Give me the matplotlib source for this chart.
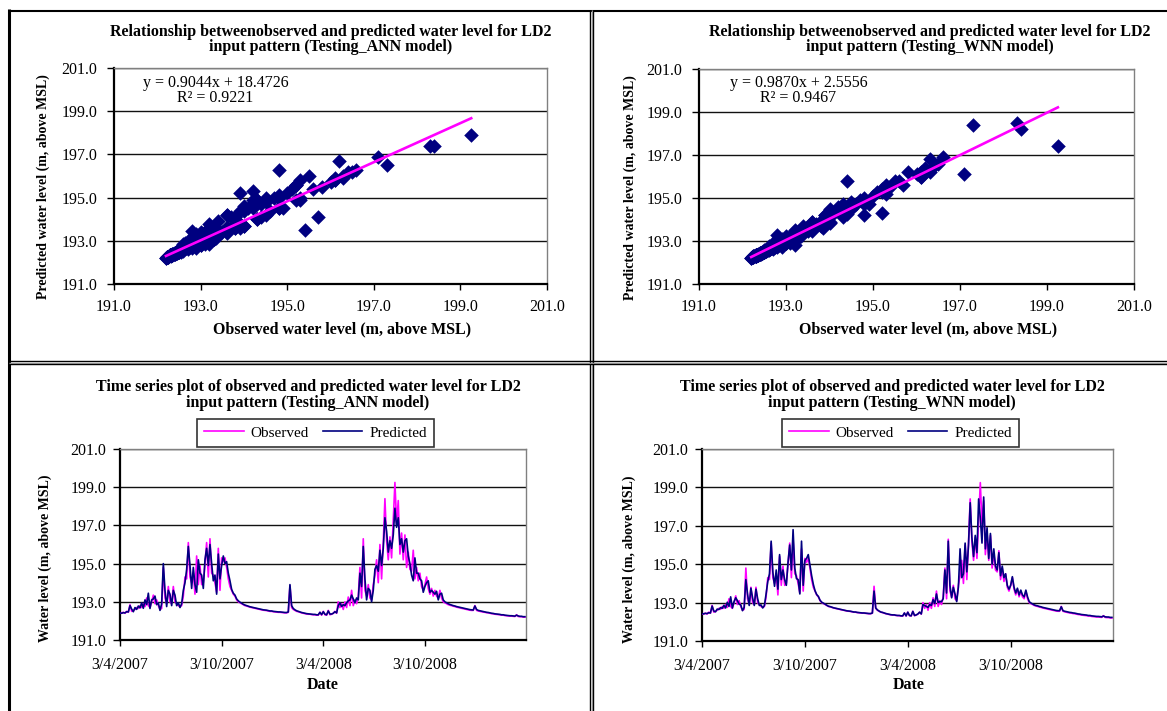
import numpy as np
import matplotlib
matplotlib.use('Agg')
import matplotlib.pyplot as plt
import pandas as pd
from matplotlib.lines import Line2D

plt.rcParams['font.family'] = ['Liberation Serif', 'DejaVu Serif']

# ---------------- data (3-day samples) ----------------
start_date = '2007-04-03'
end_date = '2009-04-03'
tick_dates = ['2007-04-03', '2007-10-03', '2008-04-03', '2008-10-03']
tick_date_labels = ['3/4/2007', '3/10/2007', '3/4/2008', '3/10/2008']
level_ticks = [191.0, 193.0, 195.0, 197.0, 199.0, 201.0]

observed = [
    192.40, 192.42, 192.45, 192.40, 192.50, 192.45, 192.85, 192.50, 192.55, 192.60,
    192.70, 192.65, 192.80, 192.70, 192.90, 192.75, 193.20, 192.80, 192.70, 193.00,
    193.35, 192.90, 193.10, 192.80, 192.60, 192.65, 194.80, 193.20, 192.90, 193.80,
    193.00, 192.90, 193.80, 193.00, 192.90, 192.80, 192.75, 192.80, 193.30, 194.30,
    194.20, 196.10, 194.30, 194.00, 194.50, 193.40, 195.40, 193.90, 194.90, 193.90,
    194.00, 195.00, 196.10, 194.30, 196.30, 194.50, 194.40, 194.00, 193.50, 195.80,
    193.60, 195.30, 195.10, 195.30, 194.80, 194.20, 193.80, 193.60, 193.40, 193.30,
    193.10, 193.00, 192.95, 192.90, 192.85, 192.80, 192.78, 192.75, 192.72, 192.70,
    192.68, 192.66, 192.64, 192.62, 192.60, 192.58, 192.56, 192.55, 192.54, 192.52,
    192.50, 192.50, 192.48, 192.47, 192.46, 192.45, 192.45, 192.44, 192.43, 192.42,
    192.42, 192.45, 193.85, 192.70, 192.60, 192.55, 192.50, 192.48, 192.45, 192.42,
    192.40, 192.38, 192.36, 192.35, 192.35, 192.33, 192.32, 192.32, 192.30, 192.30,
    192.45, 192.30, 192.50, 192.32, 192.30, 192.55, 192.32, 192.35, 192.40, 192.50,
    192.40, 193.00, 192.70, 192.90, 192.60, 193.00, 192.70, 193.25, 192.80, 193.60,
    192.80, 193.10, 192.90, 193.30, 194.80, 193.20, 196.30, 193.60, 193.30, 193.90,
    193.20, 193.10, 193.90, 194.40, 195.20, 194.00, 196.00, 194.20, 196.10, 198.40,
    196.20, 195.20, 196.40, 195.30, 197.30, 199.25, 197.10, 198.30, 195.50, 196.60,
    195.20, 196.50, 194.80, 195.60, 194.70, 194.60, 195.70, 194.20, 194.80, 194.10,
    194.50, 193.80, 193.60, 193.90, 194.30, 193.70, 193.40, 193.70, 193.30, 193.60,
    193.30, 193.20, 193.60, 193.20, 193.00, 192.95, 192.90, 192.85, 192.82, 192.80,
    192.77, 192.75, 192.72, 192.70, 192.68, 192.66, 192.64, 192.62, 192.60, 192.58,
    192.56, 192.55, 192.55, 192.80, 192.55, 192.52, 192.50, 192.48, 192.46, 192.45,
    192.43, 192.42, 192.40, 192.38, 192.37, 192.35, 192.34, 192.33, 192.32, 192.30,
    192.30, 192.28, 192.27, 192.26, 192.25, 192.25, 192.24, 192.23, 192.32, 192.23,
    192.22, 192.22, 192.20, 192.20,
]

predicted_ann = [
    192.42, 192.40, 192.43, 192.42, 192.48, 192.47, 192.80, 192.62, 192.48, 192.70,
    192.60, 192.78, 192.68, 192.95, 192.66, 193.10, 192.85, 193.45, 192.65, 193.10,
    193.15, 193.30, 192.85, 192.95, 192.55, 192.90, 195.00, 193.60, 192.75, 193.60,
    193.40, 192.80, 193.60, 193.35, 192.80, 192.95, 192.70, 192.90, 193.60, 194.00,
    194.70, 195.90, 194.90, 193.70, 194.80, 193.90, 193.50, 195.20, 194.50, 194.40,
    193.70, 195.20, 195.80, 194.90, 196.00, 195.00, 194.10, 194.40, 193.40, 195.50,
    194.20, 194.90, 195.40, 195.00, 195.10, 194.50, 194.10, 193.65, 193.45, 193.35,
    193.15, 193.05, 192.98, 192.93, 192.87, 192.83, 192.80, 192.77, 192.74, 192.72,
    192.70, 192.68, 192.66, 192.64, 192.62, 192.60, 192.58, 192.57, 192.56, 192.54,
    192.52, 192.52, 192.50, 192.49, 192.48, 192.47, 192.47, 192.46, 192.45, 192.44,
    192.44, 192.47, 193.90, 192.80, 192.65, 192.58, 192.53, 192.50, 192.47, 192.44,
    192.42, 192.40, 192.38, 192.37, 192.36, 192.35, 192.34, 192.34, 192.32, 192.32,
    192.45, 192.33, 192.48, 192.35, 192.32, 192.52, 192.36, 192.36, 192.40, 192.48,
    192.42, 192.80, 192.95, 192.75, 192.85, 192.80, 192.95, 193.05, 193.10, 193.35,
    193.15, 192.95, 193.20, 193.10, 194.50, 193.80, 195.90, 194.20, 193.10, 193.70,
    193.60, 193.00, 193.60, 194.70, 194.90, 194.60, 195.70, 194.90, 195.80, 197.40,
    196.70, 195.60, 196.20, 195.80, 196.50, 197.90, 196.90, 197.40, 196.00, 196.30,
    195.60, 196.20, 196.30, 195.40, 195.00, 194.40, 194.10, 195.30, 194.50, 194.50,
    194.20, 194.10, 193.50, 193.80, 194.00, 194.10, 193.50, 193.60, 193.50, 193.40,
    193.55, 193.10, 193.40, 193.45, 193.10, 193.00, 192.95, 192.90, 192.86, 192.83,
    192.80, 192.78, 192.75, 192.73, 192.71, 192.69, 192.67, 192.65, 192.63, 192.61,
    192.59, 192.58, 192.57, 192.78, 192.60, 192.55, 192.53, 192.51, 192.49, 192.47,
    192.45, 192.44, 192.42, 192.40, 192.39, 192.37, 192.36, 192.35, 192.34, 192.32,
    192.32, 192.30, 192.29, 192.28, 192.27, 192.27, 192.26, 192.25, 192.30, 192.26,
    192.24, 192.24, 192.22, 192.22,
]

predicted_wnn = [
    192.43, 192.41, 192.44, 192.43, 192.47, 192.46, 192.82, 192.56, 192.52, 192.66,
    192.64, 192.74, 192.70, 192.86, 192.72, 193.02, 192.80, 193.30, 192.72, 193.05,
    193.25, 193.10, 192.92, 192.88, 192.58, 192.75, 194.20, 193.45, 192.85, 193.75,
    193.25, 192.85, 193.70, 193.20, 192.85, 192.88, 192.72, 192.85, 193.45, 194.10,
    194.50, 196.20, 194.60, 193.85, 194.70, 193.70, 195.50, 194.20, 194.70, 194.20,
    193.90, 195.10, 196.00, 194.70, 196.80, 194.80, 194.25, 194.20, 193.45, 196.20,
    193.90, 195.20, 195.30, 195.50, 194.95, 194.40, 193.95, 193.62, 193.42, 193.32,
    193.12, 193.02, 192.97, 192.92, 192.86, 192.81, 192.79, 192.76, 192.73, 192.71,
    192.69, 192.67, 192.65, 192.63, 192.61, 192.59, 192.57, 192.56, 192.55, 192.53,
    192.51, 192.51, 192.49, 192.48, 192.47, 192.46, 192.46, 192.45, 192.44, 192.43,
    192.43, 192.46, 193.60, 192.72, 192.62, 192.56, 192.51, 192.49, 192.46, 192.43,
    192.41, 192.39, 192.37, 192.36, 192.36, 192.34, 192.33, 192.33, 192.31, 192.31,
    192.46, 192.31, 192.50, 192.33, 192.31, 192.54, 192.33, 192.36, 192.41, 192.50,
    192.41, 192.90, 192.85, 192.80, 192.75, 192.90, 192.85, 193.15, 192.95, 193.45,
    193.00, 193.05, 193.05, 193.20, 194.70, 193.50, 196.20, 193.90, 193.25, 193.80,
    193.45, 193.05, 193.80, 195.80, 194.30, 194.50, 196.10, 194.60, 196.00, 198.20,
    196.40, 195.40, 196.50, 195.60, 198.40, 197.40, 196.10, 198.50, 195.80, 196.90,
    195.30, 196.60, 195.00, 195.80, 194.90, 194.70, 195.60, 194.40, 194.90, 194.30,
    194.50, 193.90, 193.70, 193.90, 194.35, 193.80, 193.50, 193.75, 193.40, 193.65,
    193.40, 193.30, 193.65, 193.30, 193.05, 192.98, 192.93, 192.88, 192.85, 192.83,
    192.80, 192.78, 192.75, 192.73, 192.71, 192.69, 192.67, 192.65, 192.63, 192.61,
    192.59, 192.58, 192.58, 192.78, 192.58, 192.55, 192.53, 192.51, 192.49, 192.48,
    192.46, 192.45, 192.43, 192.41, 192.40, 192.38, 192.37, 192.36, 192.35, 192.33,
    192.33, 192.31, 192.30, 192.29, 192.28, 192.28, 192.27, 192.26, 192.30, 192.26,
    192.25, 192.25, 192.23, 192.23,
]

# trendline equations as printed on the charts
trend_ann = (0.9044, 18.4726, 0.9221)
trend_wnn = (0.9870, 2.5556, 0.9467)

# ---------------- styling ----------------
NAVY = '#000080'
MAGENTA = '#FF00FF'
W, H = 1167, 711
fig = plt.figure(figsize=(W / 100, H / 100), dpi=100)
fig.patch.set_facecolor('white')


def box(l, t, r, b):
    return [l / W, 1 - b / H, (r - l) / W, (b - t) / H]


def ftext(x, y, s, **kw):
    kw.setdefault('ha', 'center')
    kw.setdefault('va', 'center')
    fig.text(x / W, 1 - y / H, s, **kw)


def fline(xs, ys, **kw):
    fig.add_artist(Line2D([x / W for x in xs], [1 - y / H for y in ys],
                          transform=fig.transFigure, **kw))


def style_axes(ax, xpad, ypad):
    for side in ('top', 'right'):
        ax.spines[side].set_color('#808080')
        ax.spines[side].set_linewidth(1.0)
    for side in ('left', 'bottom'):
        ax.spines[side].set_color('black')
        ax.spines[side].set_linewidth(1.6)
    ax.set_ylim(191, 201)
    ax.set_yticks(level_ticks)
    ax.set_yticklabels([f'{v:.1f}' for v in level_ticks])
    ax.yaxis.grid(True, color='#111111', linewidth=1.0)
    ax.set_axisbelow(True)
    ax.tick_params(axis='x', direction='out', length=4, width=1.0, labelsize=11.5, pad=xpad)
    ax.tick_params(axis='y', direction='out', length=5, width=1.0, labelsize=11.5, pad=ypad)


TFS = 11.5  # horizontal text size

# ---------------- scatter panels ----------------
scatter_specs = [
    (box(114, 68, 547, 284), predicted_ann, trend_ann, 'ANN', 331, 342, 43, 187, (216, 83), (215, 98)),
    (box(699, 69, 1134, 284), predicted_wnn, trend_wnn, 'WNN', 930, 928, 630, 188, (799, 83), (798, 98)),
]
for pos, pred, (m, c, r2), name, tx, lx, ylx, yly, eq1, eq2 in scatter_specs:
    ax = fig.add_axes(pos)
    ax.scatter(observed, pred, marker='D', s=55, color=NAVY, linewidths=0, zorder=3)
    xs = np.array([min(observed), max(observed)])
    ax.plot(xs, m * xs + c, color=MAGENTA, lw=1.9, zorder=4)
    ax.set_xlim(191, 201)
    ax.set_xticks(level_ticks)
    ax.set_xticklabels([f'{v:.1f}' for v in level_ticks])
    style_axes(ax, xpad=7, ypad=7)
    ftext(tx, 32, 'Relationship betweenobserved and predicted water level for LD2',
          fontsize=TFS, fontweight='bold')
    ftext(tx, 47, f'input pattern (Testing_{name} model)', fontsize=TFS, fontweight='bold')
    ftext(lx, 329, 'Observed water level (m, above MSL)', fontsize=TFS, fontweight='bold')
    ftext(ylx, yly, 'Predicted water level (m, above MSL)', fontsize=10,
          fontweight='bold', rotation=90)
    ftext(eq1[0], eq1[1], f'y = {m:.4f}x + {c:.4f}', fontsize=TFS)
    ftext(eq2[0], eq2[1], f'R² = {r2:.4f}', fontsize=TFS)

# ---------------- time series panels ----------------
dates = pd.date_range(start_date, periods=len(observed), freq='3D')
ts_specs = [
    (box(120, 449, 526, 640), predicted_ann, 'ANN', 308, 45, 558, 323, 0.4815),
    (box(702, 449, 1113, 641), predicted_wnn, 'WNN', 892, 629, 559, 909, 0.483),
]
for pos, pred, name, tx, ylx, yly, dx, legx in ts_specs:
    ax = fig.add_axes(pos)
    ax.plot(dates, observed, color=MAGENTA, lw=1.2, label='Observed', zorder=3)
    ax.plot(dates, pred, color=NAVY, lw=1.2, label='Predicted', zorder=4)
    ax.set_xlim(pd.Timestamp(start_date), pd.Timestamp(end_date))
    ax.set_xticks(pd.to_datetime(tick_dates))
    ax.set_xticklabels(tick_date_labels)
    style_axes(ax, xpad=8, ypad=5)
    leg = ax.legend(loc='lower center', bbox_to_anchor=(legx, 1.0), ncol=2,
                    fontsize=11, frameon=True, fancybox=False, handlelength=2.6,
                    handletextpad=0.45, columnspacing=0.9, borderpad=0.45,
                    borderaxespad=0.15)
    leg.get_frame().set_edgecolor('black')
    leg.get_frame().set_linewidth(1.2)
    ftext(tx, 387, 'Time series plot of observed and predicted water level for LD2',
          fontsize=TFS, fontweight='bold')
    ftext(tx, 403, f'input pattern (Testing_{name} model)', fontsize=TFS, fontweight='bold')
    ftext(dx, 685, 'Date', fontsize=TFS, fontweight='bold')
    ftext(ylx, yly, 'Water level (m, above MSL)', fontsize=10,
          fontweight='bold', rotation=90)

# ---------------- panel borders ----------------
fline([9, 9], [9, 711], color='black', lw=2.2, solid_capstyle='butt')
fline([7.5, 1167], [10.5, 10.5], color='black', lw=1.5, solid_capstyle='butt')
for x, col in ((590, 'black'), (591.6, '#b0b0b0'), (593, 'black')):
    fline([x, x], [10, 711], color=col, lw=1.0, solid_capstyle='butt')
for y, col in ((361.3, 'black'), (362.6, '#b0b0b0'), (363.8, 'black')):
    fline([9, 1167], [y, y], color=col, lw=1.0, solid_capstyle='butt')

fig.savefig('out.png', dpi=100, facecolor='white')
